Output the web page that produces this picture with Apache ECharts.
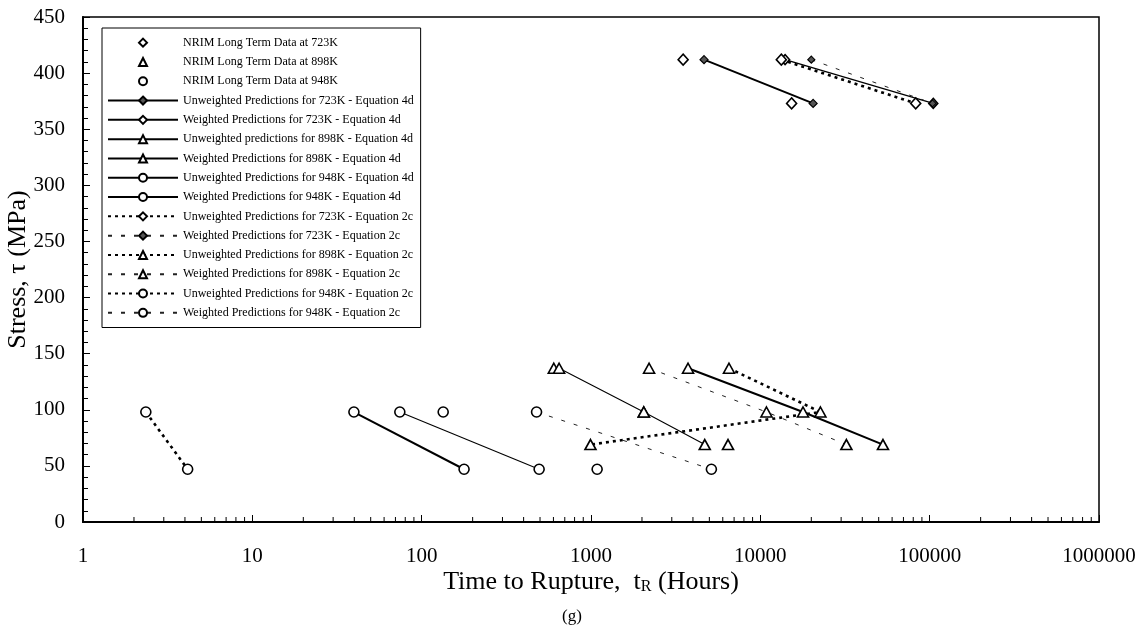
<!DOCTYPE html>
<html>
<head>
<meta charset="utf-8">
<script src="https://cdn.jsdelivr.net/npm/echarts@6/dist/echarts.min.js"></script>
<style>
html,body{margin:0;padding:0;background:#fff;}
#chart{width:1144px;height:629px;}
</style>
</head>
<body>
<div id="chart"></div>
<script>
// ---------------- data ----------------
const S723 = [412, 373];
const S898 = [137, 98, 69];
const S948 = [98, 47];

const nrim723T = [3500, 15300];
const nrim898T = [603, 2050, 6445];
const nrim948T = [134, 1087];

const unw4d723T = [4650, 20500];
const w4d723T = [14000, 105000];
const unw4d898T = [3742, 17870, 53000];
const w4d898T = [648, 2050, 4697];
const unw4d948T = [39.8, 178];
const w4d948T = [74.3, 494];

const unw2c723T = [13300, 82700];
const w2c723T = [20000, 104000];
const unw2c898T = [6530, 22640, 993];
const w2c898T = [2203, 10870, 32230];
const unw2c948T = [2.35, 4.15];
const w2c948T = [477, 5140];

const xTickLabels = ['1', '10', '100', '1000', '10000', '100000', '1000000'];
const xMinorMultipliers = [2, 3, 4, 5, 6, 7, 8, 9];
const xDecades = [1, 10, 100, 1000, 10000, 100000];

const seriesNames = [
  'NRIM Long Term Data at 723K',
  'NRIM Long Term Data at 898K',
  'NRIM Long Term Data at 948K',
  'Unweighted Predictions for 723K - Equation 4d',
  'Weighted Predictions for 723K - Equation 4d',
  'Unweighted predictions for 898K - Equation 4d',
  'Weighted Predictions for 898K - Equation 4d',
  'Unweighted Predictions for 948K - Equation 4d',
  'Weighted Predictions for 948K - Equation 4d',
  'Unweighted Predictions for 723K - Equation 2c',
  'Weighted Predictions for 723K - Equation 2c',
  'Unweighted Predictions for 898K - Equation 2c',
  'Weighted Predictions for 898K - Equation 2c',
  'Unweighted Predictions for 948K - Equation 2c',
  'Weighted Predictions for 948K - Equation 2c'
];

// ---------------- helpers ----------------
const FONT = 'Liberation Serif';
function pairs(times, stresses) { return times.map((t, i) => [t, stresses[i]]); }

const openMark = { color: '#fff', borderColor: '#000', borderWidth: 1.6, opacity: 1 };
const dotMark = { color: '#555', borderColor: '#000', borderWidth: 1.2, opacity: 1 };

const NO_LINE = { color: 'rgba(0,0,0,0)', width: 0, opacity: 0 };
const SOLID_THICK = { color: '#000', width: 2, type: 'solid' };
const SOLID_THIN = { color: '#000', width: 1.1, type: 'solid' };
const DOT_HEAVY = { color: '#000', width: 2.6, type: [3, 4] };
const DASH_LIGHT = { color: '#222', width: 1, type: [4, 9] };

function line(name, times, stresses, symbol, size, lineStyle, item) {
  return { name, type: 'line', data: pairs(times, stresses), symbol, symbolSize: size,
           showSymbol: true, lineStyle, itemStyle: item || openMark, z: 4, animation: false };
}

const minorTickData = [];
xDecades.forEach(d => xMinorMultipliers.forEach(m => minorTickData.push([m * d, 0])));

const series = [
  line(seriesNames[0], nrim723T, S723, 'diamond', [10, 11], NO_LINE),
  line(seriesNames[1], nrim898T, S898, 'triangle', [11, 10], NO_LINE),
  line(seriesNames[2], nrim948T, S948, 'circle', 10, NO_LINE),
  line(seriesNames[3], unw4d723T, S723, 'diamond', [8, 8], SOLID_THICK, dotMark),
  line(seriesNames[4], w4d723T, S723, 'diamond', [9, 10], Object.assign({}, SOLID_THIN, { width: 1.3 })),
  line(seriesNames[5], unw4d898T, S898, 'triangle', [11, 10], SOLID_THICK),
  line(seriesNames[6], w4d898T, S898, 'triangle', [11, 10], SOLID_THIN),
  line(seriesNames[7], unw4d948T, S948, 'circle', 10, SOLID_THICK),
  line(seriesNames[8], w4d948T, S948, 'circle', 10, SOLID_THIN),
  line(seriesNames[9], unw2c723T, S723, 'diamond', [10, 11], DOT_HEAVY),
  line(seriesNames[10], w2c723T, S723, 'diamond', [7, 7], DASH_LIGHT, dotMark),
  line(seriesNames[11], unw2c898T, S898, 'triangle', [11, 10], DOT_HEAVY),
  line(seriesNames[12], w2c898T, S898, 'triangle', [11, 10], DASH_LIGHT),
  line(seriesNames[13], unw2c948T, S948, 'circle', 10, DOT_HEAVY),
  line(seriesNames[14], w2c948T, S948, 'circle', 10, DASH_LIGHT),
  {
    name: 'xMinorTicks', type: 'custom', data: minorTickData, silent: true, z: 6,
    renderItem: function (params, api) {
      const p = api.coord([api.value(0), 0]);
      return { type: 'line', shape: { x1: p[0], y1: p[1], x2: p[0], y2: p[1] - 5 },
               style: { stroke: '#000', lineWidth: 1 } };
    }
  }
];

const chart = echarts.init(document.getElementById('chart'), null, { renderer: 'canvas' });
chart.setOption({
  animation: false,
  backgroundColor: '#fff',
  textStyle: { fontFamily: FONT, color: '#000' },
  title: {
    text: '(g)', left: 'center', top: 603,
    textStyle: { fontFamily: FONT, fontSize: 17, fontWeight: 'normal', color: '#000' }
  },
  grid: { left: 83, right: 45, top: 17, bottom: 107, show: true, borderColor: '#000', borderWidth: 1.5,
          containLabel: false, outerBoundsMode: 'none' },
  legend: {
    orient: 'vertical', left: 102, top: 28,
    data: seriesNames,
    itemWidth: 70, itemHeight: 10, itemGap: 0,
    padding: [5, 7, 5, 5],
    borderColor: '#000', borderWidth: 1, backgroundColor: '#fff',
    selectedMode: false,
    textStyle: { fontFamily: FONT, fontSize: 12, color: '#000', lineHeight: 19.3 }
  },
  xAxis: {
    type: 'log', logBase: 10, min: 1, max: 1000000, splitNumber: 6,
    name: 'Time to Rupture,  t{sub|R} (Hours)',
    nameLocation: 'middle', nameGap: 47, nameMoveOverlap: false,
    nameTextStyle: {
      fontFamily: FONT, fontSize: 26, color: '#000',
      rich: { sub: { fontFamily: FONT, fontSize: 16, color: '#000', verticalAlign: 'bottom', padding: [8, 0, 0, 0] } }
    },
    axisLine: { onZero: false, lineStyle: { color: '#000', width: 2 } },
    axisTick: { inside: true, length: 7, lineStyle: { color: '#000', width: 1 } },
    axisLabel: {
      fontFamily: FONT, fontSize: 21, color: '#000', margin: 24,
      formatter: v => xTickLabels[Math.round(Math.log10(v))]
    },
    splitLine: { show: false }
  },
  yAxis: {
    type: 'value', min: 0, max: 450, interval: 50,
    name: 'Stress, τ (MPa)', nameLocation: 'middle', nameGap: 52, nameRotate: 90,
    nameMoveOverlap: false,
    nameTextStyle: { fontFamily: FONT, fontSize: 26, color: '#000' },
    axisLine: { lineStyle: { color: '#000', width: 2 } },
    axisTick: { inside: true, length: 7, lineStyle: { color: '#000', width: 1 } },
    minorTick: { show: true, splitNumber: 5, length: 5, lineStyle: { color: '#000', width: 1 } },
    axisLabel: { fontFamily: FONT, fontSize: 21, color: '#000', margin: 18 },
    splitLine: { show: false }
  },
  series
});
</script>
</body>
</html>
